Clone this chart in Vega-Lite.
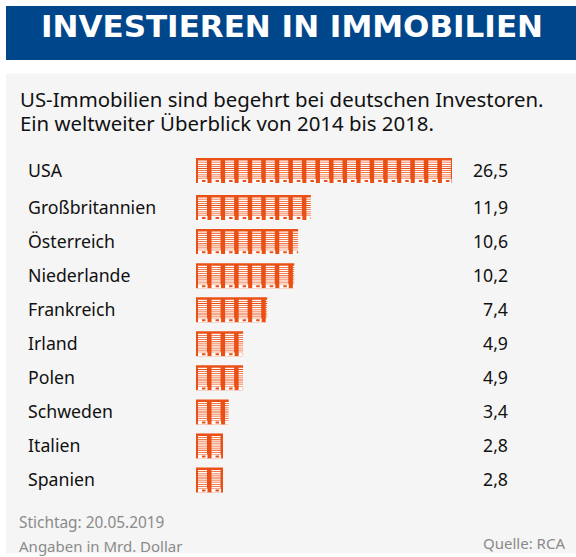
{"$schema":"https://vega.github.io/schema/vega-lite/v6.json","width":576,"height":557,"autosize":{"type":"none"},"padding":0,"background":"#ffffff","title":{"text":"INVESTIEREN IN IMMOBILIEN","anchor":"middle","frame":"group","offset":0,"dx":4,"dy":44,"font":"DejaVu Sans","fontWeight":"bold","fontSize":31,"color":"#ffffff","zindex":1},"config":{"view":{"stroke":null},"axis":{"disable":true},"locale":{"number":{"decimal":",","thousands":".","grouping":[3],"currency":["","$"]}}},"data":{"values":[{"land":"USA","rang":1,"wert":26.5},{"land":"Großbritannien","rang":2,"wert":11.9},{"land":"Österreich","rang":3,"wert":10.6},{"land":"Niederlande","rang":4,"wert":10.2},{"land":"Frankreich","rang":5,"wert":7.4},{"land":"Irland","rang":6,"wert":4.9},{"land":"Polen","rang":7,"wert":4.9},{"land":"Schweden","rang":8,"wert":3.4},{"land":"Italien","rang":9,"wert":2.8},{"land":"Spanien","rang":10,"wert":2.8}]},"layer":[{"data":{"values":[{"f":"Banner"}]},"mark":{"type":"rect","color":"#00468b"},"encoding":{"x":{"datum":-19.67,"type":"quantitative","scale":{"domain":[-20.29,39.34],"nice":false,"zero":false},"axis":null},"x2":{"datum":39.34},"y":{"datum":-3,"type":"quantitative","scale":{"domain":[-3,1,2,10,13],"range":[0,170.5,207.5,480,557],"nice":false,"zero":false},"axis":null},"y2":{"datum":-1.69}}},{"data":{"values":[{"f":"Panel"}]},"mark":{"type":"rect","color":"#f5f5f5"},"encoding":{"x":{"datum":-19.67,"type":"quantitative"},"x2":{"datum":39.34},"y":{"datum":-1.36,"type":"quantitative"},"y2":{"datum":13}}},{"mark":{"type":"bar","orient":"horizontal","size":25,"color":"#ea5016"},"encoding":{"x":{"field":"wert","type":"quantitative"},"y":{"field":"rang","type":"quantitative"}}},{"mark":{"type":"point","filled":true,"size":4,"color":"#ffffff","opacity":1,"strokeWidth":0,"shape":"M2 -10h9v1.3h-9v-1.3zm0 2.1h9v1.3h-9v-1.3zm0 2.1h9v1.3h-9v-1.3zm0 2.1h9v1.3h-9v-1.3zm0 2.1h9v1.3h-9v-1.3zm0 2.1h9v1.3h-9v-1.3zm0 2.1h9v1.3h-9v-1.3zm0 2.1h9v1.3h-9v-1.3zm0 2.1h9v1.3h-9v-1.3zm0 1.8h9.5v3.9h-9.5v-3.9zm4 1v2h3.5v-2h-3.5zm9.55 -19.6h9v1.3h-9v-1.3zm0 2.1h9v1.3h-9v-1.3zm0 2.1h9v1.3h-9v-1.3zm0 2.1h9v1.3h-9v-1.3zm0 2.1h9v1.3h-9v-1.3zm0 2.1h9v1.3h-9v-1.3zm0 2.1h9v1.3h-9v-1.3zm0 2.1h9v1.3h-9v-1.3zm0 2.1h9v1.3h-9v-1.3zm0 1.8h9.5v3.9h-9.5v-3.9zm4 1v2h3.5v-2h-3.5zm9.55 -19.6h9v1.3h-9v-1.3zm0 2.1h9v1.3h-9v-1.3zm0 2.1h9v1.3h-9v-1.3zm0 2.1h9v1.3h-9v-1.3zm0 2.1h9v1.3h-9v-1.3zm0 2.1h9v1.3h-9v-1.3zm0 2.1h9v1.3h-9v-1.3zm0 2.1h9v1.3h-9v-1.3zm0 2.1h9v1.3h-9v-1.3zm0 1.8h9.5v3.9h-9.5v-3.9zm4 1v2h3.5v-2h-3.5zm9.55 -19.6h9v1.3h-9v-1.3zm0 2.1h9v1.3h-9v-1.3zm0 2.1h9v1.3h-9v-1.3zm0 2.1h9v1.3h-9v-1.3zm0 2.1h9v1.3h-9v-1.3zm0 2.1h9v1.3h-9v-1.3zm0 2.1h9v1.3h-9v-1.3zm0 2.1h9v1.3h-9v-1.3zm0 2.1h9v1.3h-9v-1.3zm0 1.8h9.5v3.9h-9.5v-3.9zm4 1v2h3.5v-2h-3.5zm9.55 -19.6h9v1.3h-9v-1.3zm0 2.1h9v1.3h-9v-1.3zm0 2.1h9v1.3h-9v-1.3zm0 2.1h9v1.3h-9v-1.3zm0 2.1h9v1.3h-9v-1.3zm0 2.1h9v1.3h-9v-1.3zm0 2.1h9v1.3h-9v-1.3zm0 2.1h9v1.3h-9v-1.3zm0 2.1h9v1.3h-9v-1.3zm0 1.8h9.5v3.9h-9.5v-3.9zm4 1v2h3.5v-2h-3.5zm9.55 -19.6h9v1.3h-9v-1.3zm0 2.1h9v1.3h-9v-1.3zm0 2.1h9v1.3h-9v-1.3zm0 2.1h9v1.3h-9v-1.3zm0 2.1h9v1.3h-9v-1.3zm0 2.1h9v1.3h-9v-1.3zm0 2.1h9v1.3h-9v-1.3zm0 2.1h9v1.3h-9v-1.3zm0 2.1h9v1.3h-9v-1.3zm0 1.8h9.5v3.9h-9.5v-3.9zm4 1v2h3.5v-2h-3.5zm9.55 -19.6h9v1.3h-9v-1.3zm0 2.1h9v1.3h-9v-1.3zm0 2.1h9v1.3h-9v-1.3zm0 2.1h9v1.3h-9v-1.3zm0 2.1h9v1.3h-9v-1.3zm0 2.1h9v1.3h-9v-1.3zm0 2.1h9v1.3h-9v-1.3zm0 2.1h9v1.3h-9v-1.3zm0 2.1h9v1.3h-9v-1.3zm0 1.8h9.5v3.9h-9.5v-3.9zm4 1v2h3.5v-2h-3.5zm9.55 -19.6h9v1.3h-9v-1.3zm0 2.1h9v1.3h-9v-1.3zm0 2.1h9v1.3h-9v-1.3zm0 2.1h9v1.3h-9v-1.3zm0 2.1h9v1.3h-9v-1.3zm0 2.1h9v1.3h-9v-1.3zm0 2.1h9v1.3h-9v-1.3zm0 2.1h9v1.3h-9v-1.3zm0 2.1h9v1.3h-9v-1.3zm0 1.8h9.5v3.9h-9.5v-3.9zm4 1v2h3.5v-2h-3.5zm9.55 -19.6h9v1.3h-9v-1.3zm0 2.1h9v1.3h-9v-1.3zm0 2.1h9v1.3h-9v-1.3zm0 2.1h9v1.3h-9v-1.3zm0 2.1h9v1.3h-9v-1.3zm0 2.1h9v1.3h-9v-1.3zm0 2.1h9v1.3h-9v-1.3zm0 2.1h9v1.3h-9v-1.3zm0 2.1h9v1.3h-9v-1.3zm0 1.8h9.5v3.9h-9.5v-3.9zm4 1v2h3.5v-2h-3.5zm9.55 -19.6h9v1.3h-9v-1.3zm0 2.1h9v1.3h-9v-1.3zm0 2.1h9v1.3h-9v-1.3zm0 2.1h9v1.3h-9v-1.3zm0 2.1h9v1.3h-9v-1.3zm0 2.1h9v1.3h-9v-1.3zm0 2.1h9v1.3h-9v-1.3zm0 2.1h9v1.3h-9v-1.3zm0 2.1h9v1.3h-9v-1.3zm0 1.8h9.5v3.9h-9.5v-3.9zm4 1v2h3.5v-2h-3.5zm9.55 -19.6h9v1.3h-9v-1.3zm0 2.1h9v1.3h-9v-1.3zm0 2.1h9v1.3h-9v-1.3zm0 2.1h9v1.3h-9v-1.3zm0 2.1h9v1.3h-9v-1.3zm0 2.1h9v1.3h-9v-1.3zm0 2.1h9v1.3h-9v-1.3zm0 2.1h9v1.3h-9v-1.3zm0 2.1h9v1.3h-9v-1.3zm0 1.8h9.5v3.9h-9.5v-3.9zm4 1v2h3.5v-2h-3.5zm9.55 -19.6h9v1.3h-9v-1.3zm0 2.1h9v1.3h-9v-1.3zm0 2.1h9v1.3h-9v-1.3zm0 2.1h9v1.3h-9v-1.3zm0 2.1h9v1.3h-9v-1.3zm0 2.1h9v1.3h-9v-1.3zm0 2.1h9v1.3h-9v-1.3zm0 2.1h9v1.3h-9v-1.3zm0 2.1h9v1.3h-9v-1.3zm0 1.8h9.5v3.9h-9.5v-3.9zm4 1v2h3.5v-2h-3.5zm9.55 -19.6h9v1.3h-9v-1.3zm0 2.1h9v1.3h-9v-1.3zm0 2.1h9v1.3h-9v-1.3zm0 2.1h9v1.3h-9v-1.3zm0 2.1h9v1.3h-9v-1.3zm0 2.1h9v1.3h-9v-1.3zm0 2.1h9v1.3h-9v-1.3zm0 2.1h9v1.3h-9v-1.3zm0 2.1h9v1.3h-9v-1.3zm0 1.8h9.5v3.9h-9.5v-3.9zm4 1v2h3.5v-2h-3.5zm9.55 -19.6h9v1.3h-9v-1.3zm0 2.1h9v1.3h-9v-1.3zm0 2.1h9v1.3h-9v-1.3zm0 2.1h9v1.3h-9v-1.3zm0 2.1h9v1.3h-9v-1.3zm0 2.1h9v1.3h-9v-1.3zm0 2.1h9v1.3h-9v-1.3zm0 2.1h9v1.3h-9v-1.3zm0 2.1h9v1.3h-9v-1.3zm0 1.8h9.5v3.9h-9.5v-3.9zm4 1v2h3.5v-2h-3.5zm9.55 -19.6h9v1.3h-9v-1.3zm0 2.1h9v1.3h-9v-1.3zm0 2.1h9v1.3h-9v-1.3zm0 2.1h9v1.3h-9v-1.3zm0 2.1h9v1.3h-9v-1.3zm0 2.1h9v1.3h-9v-1.3zm0 2.1h9v1.3h-9v-1.3zm0 2.1h9v1.3h-9v-1.3zm0 2.1h9v1.3h-9v-1.3zm0 1.8h9.5v3.9h-9.5v-3.9zm4 1v2h3.5v-2h-3.5zm9.55 -19.6h9v1.3h-9v-1.3zm0 2.1h9v1.3h-9v-1.3zm0 2.1h9v1.3h-9v-1.3zm0 2.1h9v1.3h-9v-1.3zm0 2.1h9v1.3h-9v-1.3zm0 2.1h9v1.3h-9v-1.3zm0 2.1h9v1.3h-9v-1.3zm0 2.1h9v1.3h-9v-1.3zm0 2.1h9v1.3h-9v-1.3zm0 1.8h9.5v3.9h-9.5v-3.9zm4 1v2h3.5v-2h-3.5zm9.55 -19.6h9v1.3h-9v-1.3zm0 2.1h9v1.3h-9v-1.3zm0 2.1h9v1.3h-9v-1.3zm0 2.1h9v1.3h-9v-1.3zm0 2.1h9v1.3h-9v-1.3zm0 2.1h9v1.3h-9v-1.3zm0 2.1h9v1.3h-9v-1.3zm0 2.1h9v1.3h-9v-1.3zm0 2.1h9v1.3h-9v-1.3zm0 1.8h9.5v3.9h-9.5v-3.9zm4 1v2h3.5v-2h-3.5zm9.55 -19.6h9v1.3h-9v-1.3zm0 2.1h9v1.3h-9v-1.3zm0 2.1h9v1.3h-9v-1.3zm0 2.1h9v1.3h-9v-1.3zm0 2.1h9v1.3h-9v-1.3zm0 2.1h9v1.3h-9v-1.3zm0 2.1h9v1.3h-9v-1.3zm0 2.1h9v1.3h-9v-1.3zm0 2.1h9v1.3h-9v-1.3zm0 1.8h9.5v3.9h-9.5v-3.9zm4 1v2h3.5v-2h-3.5zm9.55 -19.6h9v1.3h-9v-1.3zm0 2.1h9v1.3h-9v-1.3zm0 2.1h9v1.3h-9v-1.3zm0 2.1h9v1.3h-9v-1.3zm0 2.1h9v1.3h-9v-1.3zm0 2.1h9v1.3h-9v-1.3zm0 2.1h9v1.3h-9v-1.3zm0 2.1h9v1.3h-9v-1.3zm0 2.1h9v1.3h-9v-1.3zm0 1.8h9.5v3.9h-9.5v-3.9zm4 1v2h3.5v-2h-3.5z"},"encoding":{"x":{"datum":0,"type":"quantitative"},"y":{"field":"rang","type":"quantitative"}}},{"mark":{"type":"bar","orient":"horizontal","size":27,"color":"#f5f5f5"},"encoding":{"x":{"field":"wert","type":"quantitative"},"x2":{"datum":27},"y":{"field":"rang","type":"quantitative"}}},{"mark":{"type":"text","align":"left","baseline":"middle","dy":1,"font":"Noto Sans","fontSize":17.7,"color":"#111111"},"encoding":{"x":{"datum":-17.39,"type":"quantitative"},"y":{"field":"rang","type":"quantitative"},"text":{"field":"land"}}},{"mark":{"type":"text","align":"right","baseline":"middle","dy":1,"font":"Noto Sans","fontSize":17.7,"color":"#111111"},"encoding":{"x":{"datum":32.3,"type":"quantitative"},"y":{"field":"rang","type":"quantitative"},"text":{"field":"wert","type":"quantitative","format":".1f"}}},{"data":{"values":[{"t":"US-Immobilien sind begehrt bei deutschen Investoren."}]},"mark":{"type":"text","align":"left","baseline":"middle","font":"Noto Sans","fontSize":20.4,"color":"#111111"},"encoding":{"x":{"datum":-18.22,"type":"quantitative"},"y":{"datum":-0.7,"type":"quantitative"},"text":{"field":"t"}}},{"data":{"values":[{"t":"Ein weltweiter Überblick von 2014 bis 2018."}]},"mark":{"type":"text","align":"left","baseline":"middle","font":"Noto Sans","fontSize":20.4,"color":"#111111"},"encoding":{"x":{"datum":-18.22,"type":"quantitative"},"y":{"datum":-0.11,"type":"quantitative"},"text":{"field":"t"}}},{"data":{"values":[{"t":"Stichtag: 20.05.2019"}]},"mark":{"type":"text","align":"left","baseline":"middle","font":"Noto Sans","fontSize":15.4,"color":"#8a8a8a"},"encoding":{"x":{"datum":-18.32,"type":"quantitative"},"y":{"datum":11.76,"type":"quantitative"},"text":{"field":"t"}}},{"data":{"values":[{"t":"Angaben in Mrd. Dollar"}]},"mark":{"type":"text","align":"left","baseline":"middle","font":"Noto Sans","fontSize":15,"color":"#8a8a8a"},"encoding":{"x":{"datum":-18.32,"type":"quantitative"},"y":{"datum":12.72,"type":"quantitative"},"text":{"field":"t"}}},{"data":{"values":[{"t":"Quelle: RCA"}]},"mark":{"type":"text","align":"right","baseline":"middle","font":"Noto Sans","fontSize":15,"color":"#8a8a8a"},"encoding":{"x":{"datum":38.2,"type":"quantitative"},"y":{"datum":12.61,"type":"quantitative"},"text":{"field":"t"}}}]}
